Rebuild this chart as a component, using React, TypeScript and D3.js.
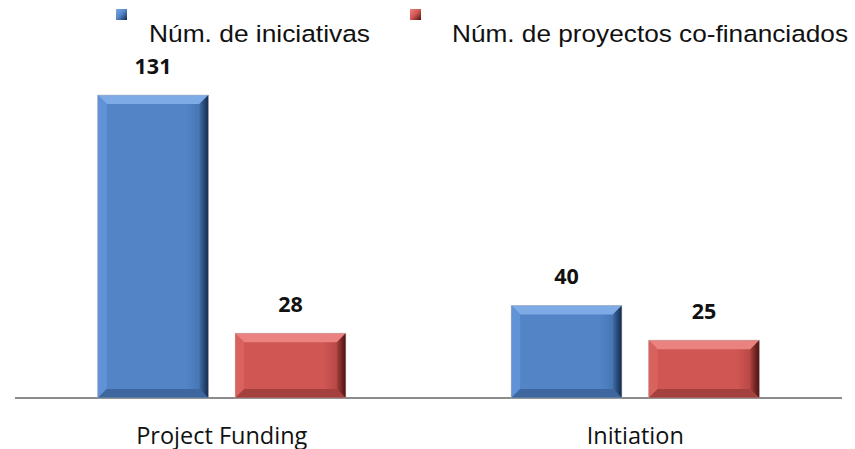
import React from "react";
import * as d3 from "d3";

const categories = ["Project Funding", "Initiation"];
const seriesNames = ["Núm. de iniciativas", "Núm. de proyectos co-financiados"];
const iniciativas = [131, 40];
const cofinanciados = [28, 25];

const width = 855;
const height = 449;

// colours for each series: face, top bevel, left bevel, right bevel (inner, outer), bottom bevel
const palettes = [
  { id: "blue", face: "#5284c6", top: "#7eaae6", left: "#5f92d6", rightIn: "#3f6ea8", rightOut: "#14294a", bottom: "#3d679e" },
  { id: "red", face: "#cf5653", top: "#ea837f", left: "#d9625f", rightIn: "#a8403d", rightOut: "#4a1110", bottom: "#a4403d" },
];

const App: React.FC = () => {
  const axisY = 398;
  const x0 = d3.scaleBand<string>().domain(categories).range([15, 842]).paddingInner(0.4).paddingOuter(0.2);
  const x1 = d3.scaleBand<number>().domain([0, 1]).range([0, x0.bandwidth()]).paddingInner(0.195);
  const y = d3.scaleLinear().domain([0, 131]).range([axisY, 95]);

  const rows = categories.map((c, i) => ({ cat: c, values: [iniciativas[i], cofinanciados[i]] }));
  const bev = 9;

  const bar = (x: number, top: number, w: number, p: (typeof palettes)[number], key: string) => {
    const b = axisY;
    const h = b - top;
    const bv = Math.min(bev, h / 3);
    return (
      <g key={key}>
        <rect x={x} y={top} width={w} height={h} fill={`url(#face-${p.id})`} />
        {/* top bevel */}
        <polygon points={`${x},${top} ${x + w},${top} ${x + w - bv},${top + bv} ${x + bv},${top + bv}`} fill={p.top} />
        {/* left bevel */}
        <polygon points={`${x},${top} ${x + bv},${top + bv} ${x + bv},${b - bv} ${x},${b}`} fill={p.left} />
        {/* right bevel */}
        <polygon points={`${x + w},${top} ${x + w},${b} ${x + w - bv},${b - bv} ${x + w - bv},${top + bv}`} fill={`url(#right-${p.id})`} />
        {/* bottom bevel */}
        <polygon points={`${x},${b} ${x + bv},${b - bv} ${x + w - bv},${b - bv} ${x + w},${b}`} fill={p.bottom} />
        <rect x={x} y={top} width={w} height={h} fill="none" stroke="#b8b8b8" strokeWidth={0.8} strokeOpacity={0.6} />
      </g>
    );
  };

  return (
    <svg width={width} height={height} style={{ position: "absolute", left: 0, top: 0 }}>
      <defs>
        {palettes.map((p) => (
          <React.Fragment key={p.id}>
            <linearGradient id={`face-${p.id}`} x1="0" x2="1" y1="0" y2="0">
              <stop offset="0" stopColor={p.face} />
              <stop offset="0.8" stopColor={p.face} />
              <stop offset="1" stopColor={p.rightIn} />
            </linearGradient>
            <linearGradient id={`right-${p.id}`} x1="0" x2="1" y1="0" y2="0">
              <stop offset="0" stopColor={p.rightIn} />
              <stop offset="1" stopColor={p.rightOut} />
            </linearGradient>
            <linearGradient id={`leg-${p.id}`} x1="0" x2="1" y1="0" y2="1">
              <stop offset="0" stopColor={p.top} />
              <stop offset="0.5" stopColor={p.face} />
              <stop offset="1" stopColor={p.rightOut} />
            </linearGradient>
          </React.Fragment>
        ))}
      </defs>

      {/* legend */}
      {seriesNames.map((s, i) => {
        const lx = [116, 410][i];
        const tx = [149, 452][i];
        const tl = [221, 396][i];
        return (
          <g key={s}>
            <rect x={lx} y={9} width={11} height={11} fill={`url(#leg-${palettes[i].id})`} />
            <text x={tx} y={42} fontFamily="'Liberation Sans', Arial, sans-serif" fontSize={24.5} fill="#111" textLength={tl} lengthAdjust="spacingAndGlyphs">
              {s}
            </text>
          </g>
        );
      })}

      {/* axis */}
      <line x1={15} x2={842} y1={axisY} y2={axisY} stroke="#8c8c8c" strokeWidth={2} />

      {rows.map((r) => (
        <g key={r.cat} transform={`translate(${x0(r.cat)},0)`}>
          {r.values.map((v, i) => {
            const bx = x1(i)!;
            const bw = x1.bandwidth();
            return (
              <g key={i}>
                {bar(bx, y(v), bw, palettes[i], `b${i}`)}
                <text x={bx + bw / 2} y={y(v) - 21} textAnchor="middle" fontFamily="'Open Sans', sans-serif" fontWeight={700} fontSize={21.5} fill="#111">
                  {v}
                </text>
              </g>
            );
          })}
          <text x={x0.bandwidth() / 2} y={443.5} textAnchor="middle" fontFamily="'Open Sans', sans-serif" fontSize={23.5} fill="#111">
            {r.cat}
          </text>
        </g>
      ))}
    </svg>
  );
};

export default App;
